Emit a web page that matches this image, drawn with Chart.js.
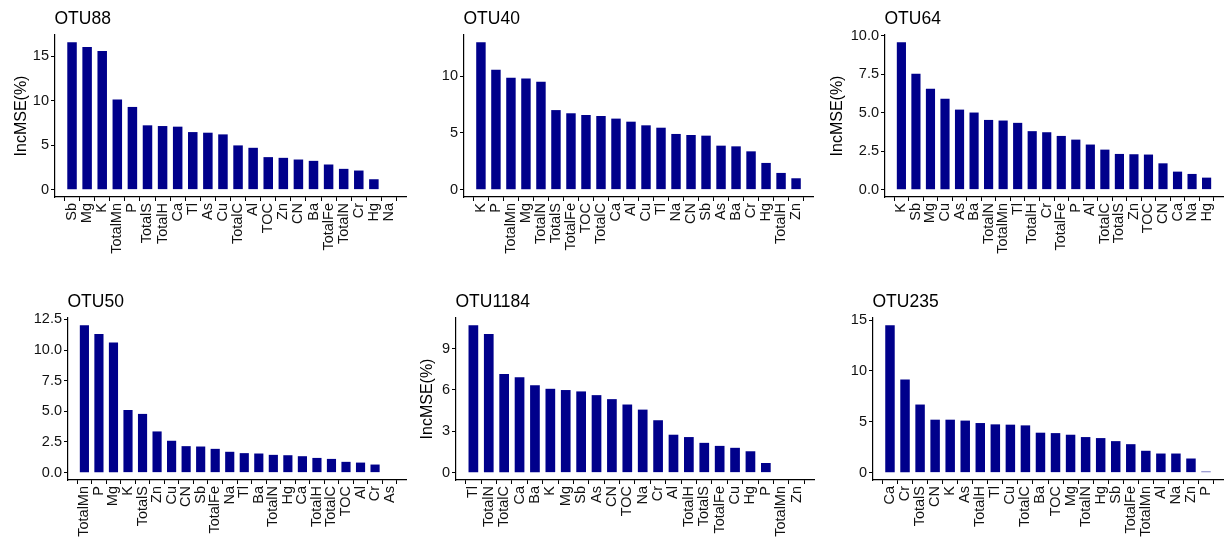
<!DOCTYPE html>
<html>
<head>
<meta charset="utf-8">
<script src="https://cdn.jsdelivr.net/npm/chart.js@4.4.1/dist/chart.umd.min.js"></script>
<style>
  body { margin: 0; background: #fff; width: 1224px; height: 542px; position: relative; overflow: hidden; }
  canvas { position: absolute; }
</style>
</head>
<body>
<canvas id="p0"></canvas>
<canvas id="p1"></canvas>
<canvas id="p2"></canvas>
<canvas id="p3"></canvas>
<canvas id="p4"></canvas>
<canvas id="p5"></canvas>
<script>
// data, one pair of arrays per OTU
var otu88Labels = ['Sb', 'Mg', 'K', 'TotalMn', 'P', 'TotalS', 'TotalH', 'Ca', 'Tl', 'As', 'Cu', 'TotalC', 'Al', 'TOC', 'Zn', 'CN', 'Ba', 'TotalFe', 'TotalN', 'Cr', 'Hg', 'Na'];
var otu88Values = [16.58, 16.06, 15.6, 10.14, 9.31, 7.24, 7.16, 7.09, 6.48, 6.41, 6.22, 4.98, 4.71, 3.66, 3.58, 3.39, 3.24, 2.83, 2.34, 2.15, 1.17, 0];

var otu40Labels = ['K', 'P', 'TotalMn', 'Mg', 'TotalN', 'TotalS', 'TotalFe', 'TOC', 'TotalC', 'Ca', 'Al', 'Cu', 'Tl', 'Na', 'CN', 'Sb', 'As', 'Ba', 'Cr', 'Hg', 'TotalH', 'Zn'];
var otu40Values = [12.96, 10.56, 9.85, 9.79, 9.5, 7.0, 6.72, 6.57, 6.48, 6.25, 5.98, 5.66, 5.45, 4.9, 4.81, 4.75, 3.87, 3.81, 3.37, 2.35, 1.47, 1.0];

var otu64Labels = ['K', 'Sb', 'Mg', 'Cu', 'As', 'Ba', 'TotalN', 'TotalMn', 'Tl', 'TotalH', 'Cr', 'TotalFe', 'P', 'Al', 'TotalC', 'TotalS', 'Zn', 'TOC', 'CN', 'Ca', 'Na', 'Hg'];
var otu64Values = [9.57, 7.53, 6.55, 5.9, 5.2, 5.01, 4.53, 4.49, 4.34, 3.8, 3.73, 3.49, 3.25, 2.93, 2.6, 2.32, 2.3, 2.28, 1.71, 1.17, 1.02, 0.78];

var otu50Labels = ['TotalMn', 'P', 'Mg', 'K', 'TotalS', 'Zn', 'Cu', 'CN', 'Sb', 'TotalFe', 'Na', 'Tl', 'Ba', 'TotalN', 'Hg', 'Ca', 'TotalH', 'TotalC', 'TOC', 'Al', 'Cr', 'As'];
var otu50Values = [12.01, 11.3, 10.61, 5.11, 4.79, 3.36, 2.6, 2.16, 2.13, 1.94, 1.7, 1.59, 1.56, 1.45, 1.42, 1.34, 1.2, 1.12, 0.88, 0.82, 0.66, 0];

var otu1184Labels = ['Tl', 'TotalN', 'TotalC', 'Ca', 'Ba', 'K', 'Mg', 'Sb', 'As', 'CN', 'TOC', 'Na', 'Cr', 'Al', 'TotalH', 'TotalS', 'TotalFe', 'Cu', 'Hg', 'P', 'TotalMn', 'Zn'];
var otu1184Values = [10.68, 10.05, 7.15, 6.91, 6.33, 6.08, 5.99, 5.89, 5.62, 5.33, 4.94, 4.57, 3.8, 2.75, 2.58, 2.16, 1.94, 1.8, 1.55, 0.7, 0, 0];

var otu235Labels = ['Ca', 'Cr', 'TotalS', 'CN', 'K', 'As', 'TotalH', 'Tl', 'Cu', 'TotalC', 'Ba', 'TOC', 'Mg', 'TotalN', 'Hg', 'Sb', 'TotalFe', 'TotalMn', 'Al', 'Na', 'Zn', 'P'];
var otu235Values = [14.49, 9.17, 6.7, 5.21, 5.21, 5.12, 4.88, 4.75, 4.72, 4.65, 3.93, 3.89, 3.73, 3.5, 3.4, 3.1, 2.8, 2.15, 1.88, 1.88, 1.39, 0.1];

var yStep = [5, 5, 2.5, 2.5, 3, 5];
var yTitled = [true, false, true, false, true, false];

// panel boxes on the page: axis left, axis right, plot top, x-axis line
var panels = [
  { title: 'OTU88',   labels: otu88Labels,   values: otu88Values,   L: 54.5,  R: 405.5,  T: 35,  B: 197,  wy: 47 },
  { title: 'OTU40',   labels: otu40Labels,   values: otu40Values,   L: 464,   R: 813,    T: 35,  B: 197,  wy: 45 },
  { title: 'OTU64',   labels: otu64Labels,   values: otu64Values,   L: 884.5, R: 1222,   T: 35,  B: 197,  wy: 61 },
  { title: 'OTU50',   labels: otu50Labels,   values: otu50Values,   L: 68,    R: 405.5,  T: 318, B: 480,  wy: 45 },
  { title: 'OTU1184', labels: otu1184Labels, values: otu1184Values, L: 455.5, R: 813.5,  T: 318, B: 480,  wy: 42 },
  { title: 'OTU235',  labels: otu235Labels,  values: otu235Values,  L: 873,   R: 1222.5, T: 318, B: 480,  wy: 45 }
];

var padTop = 25, padRight = 14, xHeight = 66;
var fontFamily = '"Liberation Sans", Arial, sans-serif';

// title drawn flush with the left axis line, like ggplot
var panelTitle = {
  id: 'panelTitle',
  afterDraw: function(chart, args, opts) {
    var ctx = chart.ctx;
    ctx.save();
    ctx.fillStyle = '#000';
    ctx.font = '17.5px ' + fontFamily;
    ctx.textAlign = 'left';
    ctx.textBaseline = 'alphabetic';
    ctx.fillText(opts.text, chart.chartArea.left - 0.5, chart.chartArea.top - 11);
    ctx.restore();
  }
};

panels.forEach(function(p, i) {
  var canvas = document.getElementById('p' + i);
  var w = p.wy + (p.R - p.L) + padRight;
  var h = padTop + (p.B - p.T) + xHeight;
  canvas.width = Math.round(w);
  canvas.height = Math.round(h);
  canvas.style.left = (p.L - p.wy) + 'px';
  canvas.style.top = (p.T - padTop) + 'px';

  var top = Math.max.apply(null, p.values);
  var step = yStep[i];

  new Chart(canvas, {
    type: 'bar',
    data: {
      datasets: [{
        data: p.values.map(function(v, k) { return { x: k, y: v }; }),
        backgroundColor: '#00008B',
        borderWidth: 0,
        barPercentage: 0.63,
        categoryPercentage: 1
      }]
    },
    plugins: [panelTitle],
    options: {
      responsive: false,
      animation: false,
      layout: { padding: { top: padTop, right: padRight, left: 0, bottom: 0 } },
      plugins: {
        legend: { display: false },
        tooltip: { enabled: false },
        panelTitle: { text: p.title }
      },
      scales: {
        x: {
          type: 'linear',
          min: -0.6,
          max: p.labels.length - 1 + 0.6,
          afterFit: function(scale) { scale.height = xHeight; },
          grid: { display: true, drawOnChartArea: false, drawTicks: true, tickLength: 4, tickColor: '#000', color: '#000' },
          border: { display: true, color: '#000', width: 1.2 },
          ticks: {
            stepSize: 1,
            autoSkip: false,
            includeBounds: false,
            maxRotation: 90,
            minRotation: 90,
            padding: 2,
            color: '#111',
            font: { family: fontFamily, size: 14.5 },
            callback: function(v) { return Number.isInteger(v) ? p.labels[v] : ''; }
          }
        },
        y: {
          min: -0.05 * top,
          max: 1.05 * top,
          afterFit: function(scale) { scale.width = p.wy; },
          grid: { display: true, drawOnChartArea: false, drawTicks: true, tickLength: 4, tickColor: '#000', color: '#000' },
          border: { display: true, color: '#000', width: 1.2 },
          title: {
            display: yTitled[i],
            text: 'IncMSE(%)',
            color: '#000',
            padding: { top: 4, bottom: 0 },
            font: { family: fontFamily, size: 16 }
          },
          ticks: {
            stepSize: step,
            includeBounds: false,
            padding: 2,
            color: '#111',
            font: { family: fontFamily, size: 14.5 },
            callback: function(v) { return step % 1 ? v.toFixed(1) : String(v); }
          }
        }
      }
    }
  });
});
</script>
</body>
</html>
